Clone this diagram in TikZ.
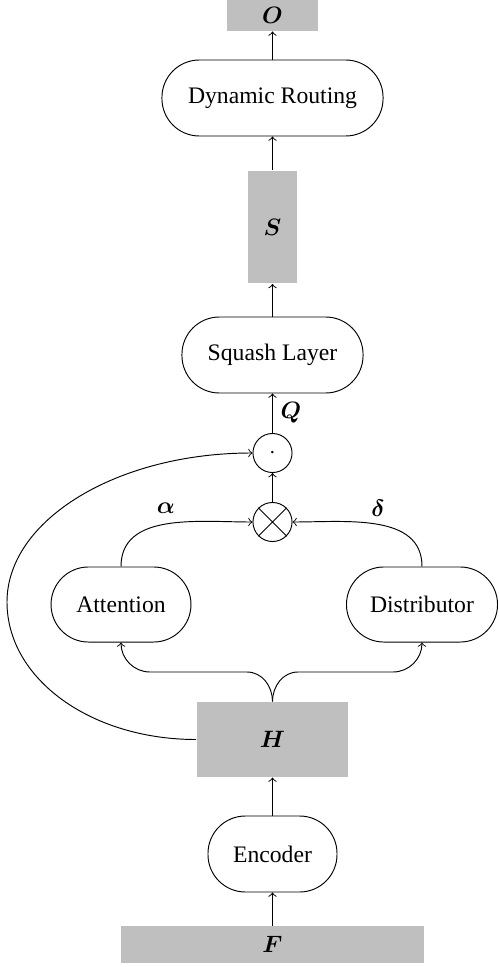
\documentclass[tikz,border=0pt]{standalone}
\usepackage{amsmath}
\usepackage{fontspec}
\setmainfont{Liberation Serif}
\newcommand\mybf[1]{$\boldsymbol{#1}$}
\begin{document}
\begin{tikzpicture}[x=0.4224pt,y=-0.4224pt,
  graybox/.style={fill=lightgray, inner sep=0pt},
  pill/.style={draw, rounded corners=15.8pt, inner sep=0pt},
  op/.style={draw, circle, minimum size=16.5pt, inner sep=0pt},
  lbl/.style={inner sep=0pt},
  conn/.style={->}]
\useasboundingbox (0,0) rectangle (498,967);
\node[graybox, minimum width=38.4pt, minimum height=13.1pt] (o) at (272.5,15.5) {\mybf{O}};
\node[pill, minimum width=93.4pt, minimum height=32.1pt] (dr) at (272.5,98) {Dynamic Routing};
\node[graybox, minimum width=20.7pt, minimum height=47.7pt] (s) at (272.5,227) {\mybf{S}};
\node[pill, minimum width=76.5pt, minimum height=32.1pt] (sq) at (272.5,355) {Squash Layer};
\node[op] (dot) at (272.5,453) {$\cdot$};
\node[op] (ot) at (272.5,522) {};
\draw (ot.45) -- (ot.225) (ot.135) -- (ot.-45);
\node[pill, minimum width=59.1pt, minimum height=31.7pt] (att) at (121,604.5) {Attention};
\node[pill, minimum width=63.8pt, minimum height=31.7pt] (dist) at (422,604.5) {Distributor};
\node[graybox, minimum width=64.2pt, minimum height=31.7pt] (h) at (272.5,739.5) {\mybf{H}};
\node[pill, minimum width=54.5pt, minimum height=32.1pt] (enc) at (272.5,854) {Encoder};
\node[graybox, minimum width=128pt, minimum height=15.6pt] (f) at (272.5,944.5) {\mybf{F}};
\node[lbl] (qlab) at (291,413) {\mybf{Q}};
\node[lbl] (alab) at (166,508) {\mybf{\alpha}};
\node[lbl] (dlab) at (378,508) {\mybf{\delta}};
\draw[conn] (dr) -- (o);
\draw[conn] (s) -- (dr);
\draw[conn] (sq) -- (s);
\draw[conn] (dot) -- (sq);
\draw[conn] (ot) -- (dot);
\draw[conn] (att.north) to[out=90,in=180] (ot.west);
\draw[conn] (dist.north) to[out=90,in=0] (ot.east);
\coordinate (bl) at (247,672);
\coordinate (bl2) at (150,672);
\coordinate (br) at (298,672);
\coordinate (br2) at (393,672);
\draw[conn] (h.north) to[out=90,in=0] (bl) -- (bl2) to[out=180,in=-90] (att.south);
\draw[conn] (h.north) to[out=90,in=180] (br) -- (br2) to[out=0,in=-90] (dist.south);
\coordinate (lm) at (7,602);
\draw[conn] (h.west) .. controls (91,739.5) and (7,679) .. (lm) .. controls (7,520) and (117,453) .. (dot.west);
\draw[conn] (f) -- (enc);
\draw[conn] (enc) -- (h);
\end{tikzpicture}
\end{document}
